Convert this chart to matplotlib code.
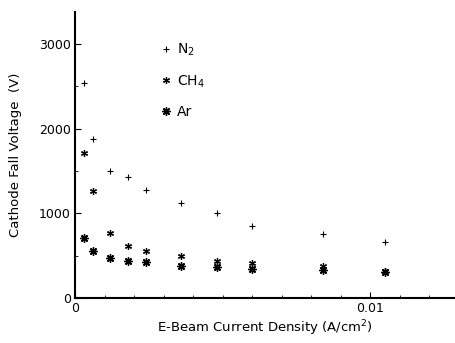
import matplotlib
matplotlib.use("Agg")
import matplotlib.pyplot as plt
from matplotlib.ticker import MultipleLocator

# current density (A/cm^2) and cathode fall voltage (V)
x_n2 = [0.0003, 0.0006, 0.0012, 0.0018, 0.0024, 0.0036, 0.0048, 0.0060, 0.0084, 0.0105]
v_n2 = [2540, 1880, 1500, 1430, 1275, 1120, 1005, 850, 755, 660]

x_ch4 = [0.0003, 0.0006, 0.0012, 0.0018, 0.0024, 0.0036, 0.0048, 0.0060, 0.0084, 0.0105]
v_ch4 = [1710, 1265, 770, 615, 555, 495, 440, 410, 375, 320]

x_ar = [0.0003, 0.0006, 0.0012, 0.0018, 0.0024, 0.0036, 0.0048, 0.0060, 0.0084, 0.0105]
v_ar = [710, 555, 475, 440, 425, 380, 365, 345, 330, 305]

plt.rcParams['font.family'] = ['DejaVu Sans']

fig = plt.figure(figsize=(4.55, 3.43), dpi=100)
ax = fig.add_axes([0.165, 0.131, 0.835, 0.834])

ax.plot(x_n2, v_n2, ls='none', marker='+', ms=4, mew=0.8, color='black', label='N$_2$')
ax.plot(x_ch4, v_ch4, ls='none', marker=(6, 2, 0), ms=5, mew=0.9, color='black', label='CH$_4$')
ax.plot(x_ar, v_ar, ls='none', marker=(8, 2, 0), ms=6, mew=1.0, color='black', label='Ar')

ax.set_xlim(0, 0.01288)
ax.set_ylim(0, 3380)

ax.spines['top'].set_visible(False)
ax.spines['right'].set_visible(False)
ax.spines['left'].set_linewidth(1.5)
ax.spines['bottom'].set_linewidth(1.5)

ax.set_xticks([0, 0.01])
ax.set_xticklabels(['0', '0.01'])
ax.xaxis.set_minor_locator(MultipleLocator(0.001))
ax.set_yticks([0, 1000, 2000, 3000])
ax.yaxis.set_minor_locator(MultipleLocator(500))
ax.tick_params(which='both', direction='in', labelsize=9, pad=3)
ax.tick_params(which='major', length=4)
ax.tick_params(which='minor', length=2.5)

ax.set_xlabel('E-Beam Current Density (A/cm$^2$)', fontsize=9.5, labelpad=2)
ax.set_ylabel('Cathode Fall Voltage  (V)', fontsize=9.5, labelpad=12)

ax.legend(loc='upper left', bbox_to_anchor=(0.195, 0.94), frameon=False,
          fontsize=10, handlelength=0.6, handletextpad=0.5, labelspacing=1.1)

fig.savefig('out.png', dpi=100)
